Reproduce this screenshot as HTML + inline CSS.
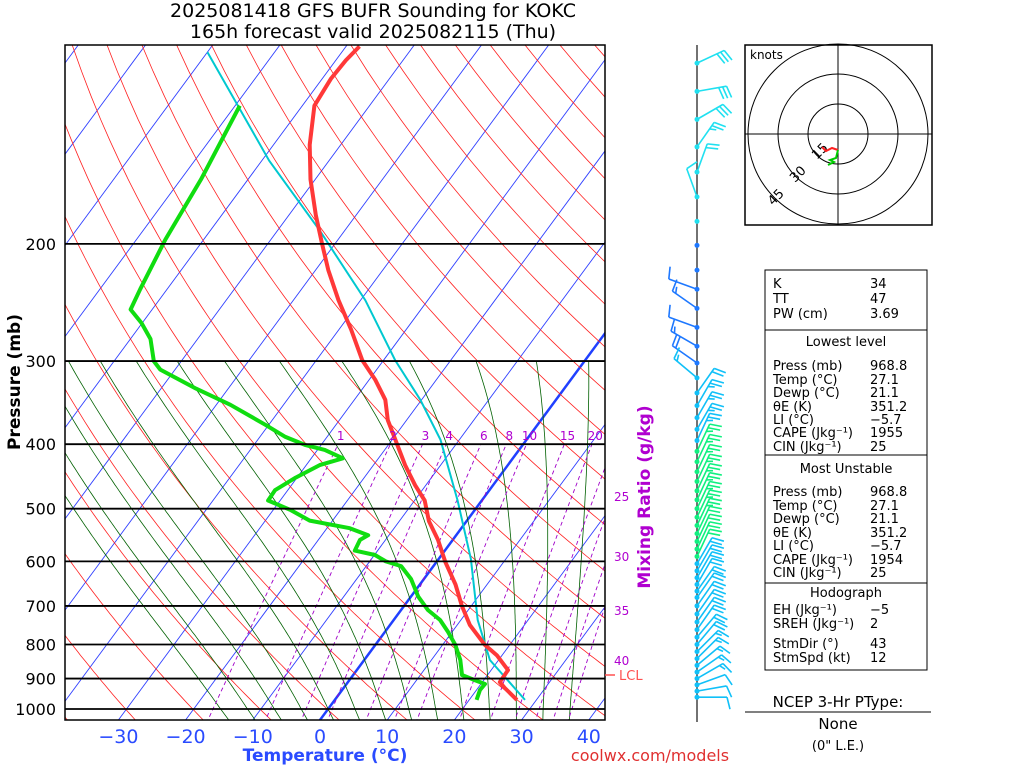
<!DOCTYPE html>
<html><head><meta charset="utf-8"><style>
html,body{margin:0;padding:0;background:#fff}
svg{display:block}
text{font-family:"DejaVu Sans","Liberation Sans",sans-serif}
</style></head><body>
<svg id="c" width="1024" height="768" viewBox="0 0 1024 768">
<defs><clipPath id="pc"><rect x="65" y="45" width="540" height="675"/></clipPath></defs>
<g id="bg" clip-path="url(#pc)"></g>
<g id="series" clip-path="url(#pc)"></g>
<rect x="65" y="45" width="540" height="675" fill="none" stroke="#000" stroke-width="1.5"/>
<g id="axes"></g>
<text x="373" y="17" font-size="19" text-anchor="middle">2025081418 GFS BUFR Sounding for KOKC</text>
<text x="373" y="38" font-size="19" text-anchor="middle">165h forecast valid 2025082115 (Thu)</text>
<text x="20" y="382" font-size="17" font-weight="bold" text-anchor="middle" transform="rotate(-90 20 382)">Pressure (mb)</text>
<text x="325" y="761" font-size="17" font-weight="bold" fill="#2a4bff" text-anchor="middle">Temperature (°C)</text>
<text x="650" y="497" font-size="17" font-weight="bold" fill="#b000d0" text-anchor="middle" transform="rotate(-90 650 497)">Mixing Ratio (g/kg)</text>
<text x="650" y="761" font-size="16" fill="#e03030" text-anchor="middle">coolwx.com/models</text>
<line x1="605" y1="675" x2="615" y2="675" stroke="#ff5050" stroke-width="1.5"/>
<text x="619" y="680" font-size="13" fill="#ff5050">LCL</text>
<g id="wind"></g>
<g>
<rect x="745" y="45" width="187" height="180" fill="#fff" stroke="#000" stroke-width="1.5"/>
<circle cx="838" cy="134" r="30" fill="none" stroke="#000"/>
<circle cx="838" cy="134" r="60" fill="none" stroke="#000"/>
<circle cx="838" cy="134" r="90" fill="none" stroke="#000"/>
<line x1="745" y1="134" x2="932" y2="134" stroke="#000"/>
<line x1="838" y1="45" x2="838" y2="225" stroke="#000"/>
<text x="750" y="59" font-size="12">knots</text>
<text x="817" y="160" font-size="13" transform="rotate(-45 817 160)">15</text>
<text x="795" y="183" font-size="13" transform="rotate(-45 795 183)">30</text>
<text x="773" y="206" font-size="13" transform="rotate(-45 773 206)">45</text>
<polyline points="838,150 832,148 826,151 822,147" fill="none" stroke="#ff2020" stroke-width="2"/>
<polyline points="838,150 836,158 830,160 834,162 828,165" fill="none" stroke="#00cc00" stroke-width="2"/>
</g>
<g id="tbl" font-size="13" font-family="Liberation Mono,monospace">
<rect x="765" y="270" width="162" height="400" fill="#fff" stroke="#000"/>
<line x1="765" y1="330" x2="927" y2="330" stroke="#000"/>
<line x1="765" y1="455" x2="927" y2="455" stroke="#000"/>
<line x1="765" y1="583" x2="927" y2="583" stroke="#000"/>
</g>
<g>
<text x="838" y="707" font-size="15" text-anchor="middle">NCEP 3-Hr PType:</text>
<line x1="745" y1="712" x2="931" y2="712" stroke="#000"/>
<text x="838" y="729" font-size="15" text-anchor="middle">None</text>
<text x="838" y="750" font-size="13" text-anchor="middle">(0" L.E.)</text>
</g>
</svg>
<script>
// ---- data ----
const tempP=[969,930,911,874,830,801,748,700,650,601,557,522,486,461,430,394,368,343,320,299,269,243,219,200,181,160,142,124,113,106,101];
const tempT=[27.1,24.0,22.6,22.5,19.2,16.3,11.9,8.6,5.3,1.3,-2.2,-5.6,-8.5,-11.6,-15.3,-19.5,-22.8,-25.4,-29.1,-33.2,-38.2,-43.3,-48.1,-51.9,-56,-60.7,-64.6,-68.2,-68.7,-68.5,-68];
const dewP=[969,936,917,905,889,844,801,766,735,710,678,638,610,600,587,578,557,548,535,521,502,486,469,449,430,420,408,401,390,374,349,330,309,300,278,263,251,234,197,160,124];
const dewT=[21.1,20.5,20.6,18.7,16.2,14.3,11.9,9.4,6.9,4.0,1.1,-1.9,-4.8,-7.6,-9.9,-13.4,-13.8,-13.1,-16.6,-23.4,-27.5,-31.8,-31.9,-30.2,-28,-25.3,-28.9,-32.4,-36.2,-40.5,-47.9,-54.8,-62.2,-64.1,-67,-70.1,-73.2,-74,-75.7,-77,-79.3];
const parcelP=[969,844,735,595,486,394,343,299,243,191,150,103];
const parcelT=[28.3,18.7,12.5,4.8,-3.6,-12.8,-20.2,-28.3,-39.3,-53.7,-68.9,-90];
const pTicks=[200,300,400,500,600,700,800,900,1000];
const tTicks=[-30,-20,-10,0,10,20,30,40];
const mixRatios=[1,2,3,4,6,8,10,15,20,25,30,35,40];
const edgeLabelY={25:497,30:557,35:611,40:661};
const windP=[107,118,130,143,156,170,185,201,219,234,250,267,285,302,318,335,350,365,380,395,410,425,440,455,470,485,500,515,530,545,560,575,590,605,620,635,650,665,680,700,720,740,760,780,800,820,840,860,880,900,920,940,960];
const windDir=[65,80,60,35,20,340,0,0,0,290,305,290,300,305,310,35,30,30,30,25,25,25,25,25,25,25,25,25,25,25,25,25,25,30,30,30,30,35,35,35,35,35,35,40,40,45,45,50,55,60,70,80,90];
const windSpd=[30,30,30,25,20,10,0,0,0,10,15,10,15,20,15,20,25,25,25,25,25,25,25,25,25,25,25,25,25,20,20,20,20,20,20,20,20,20,20,20,20,20,20,20,20,15,15,15,15,15,10,10,10];
const tblRows=[["K","34",288],["TT","47",303],["PW (cm)","3.69",318],
["Press (mb)","968.8",370],["Temp (°C)","27.1",384],["Dewp (°C)","21.1",397],["θE (K)","351.2",411],["LI (°C)","−5.7",424],["CAPE (Jkg⁻¹)","1955",437],["CIN (Jkg⁻¹)","25",451],
["Press (mb)","968.8",496],["Temp (°C)","27.1",510],["Dewp (°C)","21.1",523],["θE (K)","351.2",537],["LI (°C)","−5.7",550],["CAPE (Jkg⁻¹)","1954",564],["CIN (Jkg⁻¹)","25",577],
["EH (Jkg⁻¹)","−5",614],["SREH (Jkg⁻¹)","2",628],["StmDir (°)","43",648],["StmSpd (kt)","12",662]];
const tblHeads=[["Lowest level",346],["Most Unstable",473],["Hodograph",597]];
// ---- axes ----
const NS='http://www.w3.org/2000/svg';
function y(p){return 709+289*Math.log(p/1000);}
function x(T,p){return 320+6.72*T+0.737*(720-y(p));}
function mk(tag,attrs,parent){const e=document.createElementNS(NS,tag);for(const k in attrs)e.setAttribute(k,attrs[k]);parent.appendChild(e);return e;}
function pl(pts,attrs,parent){return mk('polyline',Object.assign({points:pts.map(a=>a[0].toFixed(1)+','+a[1].toFixed(1)).join(' '),fill:'none'},attrs),parent);}
const bg=document.getElementById('bg'),ax=document.getElementById('axes'),se=document.getElementById('series');
for(let T=-120;T<=50;T+=10){
 const l=mk('line',{x1:x(T,1050),y1:y(1050),x2:x(T,95),y2:y(95),stroke:T==0?'#2040ff':'#3040ff','stroke-width':T==0?2.5:0.9},bg);
 
 
}
for(let th=233;th<=473;th+=10){
 const pts=[];for(let p=1050;p>=95;p-=10){pts.push([x(th*Math.pow(p/1000,0.286)-273.15,p),y(p)]);}
 const e=pl(pts,{stroke:'#ff2020','stroke-width':0.8},bg);
 
 
}
function es(T){return 6.112*Math.exp(17.67*T/(T+243.5));}
for(let T0=-16;T0<=36;T0+=4){
 let T=T0+273.15;const pts=[[x(T0,1050),y(1050)]];
 for(let p=1000;p>=300;p-=5){
  const tc=T-273.15;const rs=0.622*es(tc)/(p-es(tc));
  const dTdp=(287*T+2.5e6*rs)/(1004+2.5e6*2.5e6*rs*0.622/(287*T*T))/p;
  if(p==1000)pts[0]=[x(tc+dTdp*50,1050),y(1050)];
  pts.push([x(tc,p),y(p)]);T-=dTdp*5;
 }
 const e=pl(pts,{stroke:'#006000','stroke-width':0.8},bg);
 
 
}
function tw(w,p){const e=w*p/(622+w);const L=Math.log(e/6.112);return 243.5*L/(17.67-L);}
mixRatios.forEach(w=>{
 const pts=[];for(let p=1050;p>=400;p-=10)pts.push([x(tw(w,p),p),y(p)]);
 const e=pl(pts,{stroke:'#a000c8','stroke-width':0.9,'stroke-dasharray':'4,3'},bg);
 
 
 let lx,ly,anc='middle';
 if(w<=20){lx=x(tw(w,410),410)+6;ly=440;}
 else{lx=614;ly=edgeLabelY[w]+4;anc='start';}
 const t=mk('text',{x:lx,y:ly,'font-size':12,fill:'#b000d0','text-anchor':anc},ax);t.textContent=w;
 
 
});
pTicks.forEach(p=>{
 const l=mk('line',{x1:65,x2:605,y1:y(p),y2:y(p),stroke:'#000','stroke-width':1.8},ax);
 
 
 const t=mk('text',{x:56,y:y(p)+6,'font-size':16,'text-anchor':'end'},ax);t.textContent=p;
 
 
});
tTicks.forEach(T=>{
 const t=mk('text',{x:320+6.72*T,y:743,'font-size':19,fill:'#2a4bff','text-anchor':'middle'},ax);t.textContent=T<0?'−'+(-T):T;
 
 
});
const par=pl(parcelP.map((p,i)=>[x(parcelT[i],p),y(p)]),{stroke:'#00c8d0','stroke-width':2},se);


const tl=pl(tempP.map((p,i)=>[x(tempT[i],p),y(p)]),{stroke:'#ff3838','stroke-width':4,'stroke-linejoin':'round'},se);


const dl=pl(dewP.map((p,i)=>[x(dewT[i],p),y(p)]),{stroke:'#10dd10','stroke-width':4,'stroke-linejoin':'round'},se);


const wg=document.getElementById('wind');
mk('line',{x1:697,x2:697,y1:45,y2:722,stroke:'#444','stroke-width':1.5},wg);
windP.forEach((p,i)=>{
 const yy=y(p);const col=p<200?'#20e0f0':(p<310?'#1e78ff':(p>=400&&p<=600?'#10f080':'#10c0f8'));
 const g=mk('g',{},wg);
 
 
 mk('circle',{cx:697,cy:yy,r:2.5,fill:col},g);
 if(windSpd[i]<3)return;
 const a=windDir[i]*Math.PI/180;const dx=Math.sin(a),dy=-Math.cos(a);const L=30;
 const ex=697+dx*L,ey=yy+dy*L;
 mk('line',{x1:697,y1:yy,x2:ex,y2:ey,stroke:col,'stroke-width':1.6},g);
 let s=windSpd[i],k=0;
 const fx=-dy,fy=dx;
 while(s>=5){const len=s>=10?12:6;const bx=ex-dx*k*4,by=ey-dy*k*4;
  mk('line',{x1:bx,y1:by,x2:bx+fx*len+dx*3,y2:by+fy*len+dy*3,stroke:col,'stroke-width':1.6},g);
  s-=s>=10?10:5;k++;}
});
const tb=document.getElementById('tbl');
tblRows.forEach(r=>{
 const a=mk('text',{x:773,y:r[2]},tb);a.textContent=r[0];
 
 
 const b=mk('text',{x:870,y:r[2]},tb);b.textContent=r[1];
 
 
});
tblHeads.forEach(h=>{
 const t=mk('text',{x:846,y:h[1],'text-anchor':'middle'},tb);t.textContent=h[0];
 
 
});
</script>
</body></html>
